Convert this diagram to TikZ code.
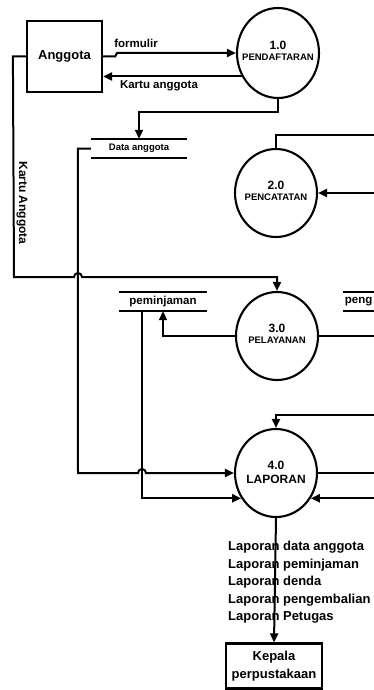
\documentclass[tikz,border=0pt]{standalone}
\usepackage{fontspec}
\setmainfont{Liberation Sans}
\usetikzlibrary{arrows.meta, shapes.geometric, calc, positioning}
\def\numfont{\fontsize{12}{15}\selectfont}
\def\proc#1#2{\makebox[0pt]{\begin{tabular}{@{}c@{}}{\numfont #1}\\[-1pt]#2\end{tabular}}}

\begin{document}
\begin{tikzpicture}[x=1pt, y=-1pt,
    entity/.style={draw, line width=2.2pt, inner sep=0pt, align=center, font=\bfseries\fontsize{13}{18}\selectfont},
    process/.style={ellipse, draw, line width=2.1pt, minimum width=82pt, minimum height=88pt, inner sep=0pt, font=\bfseries\fontsize{9.5}{12}\selectfont},
    store/.style={minimum height=19pt, inner sep=0pt, font=\bfseries\fontsize{11.5}{13}\selectfont},
    storeline/.style={line width=2.2pt},
    flow/.style={line width=2pt, -{Triangle[length=9pt,width=8pt]}},
    plain/.style={line width=2pt},
    lbl/.style={font=\bfseries\fontsize{11.5}{13}\selectfont, inner sep=0pt}
]
    \useasboundingbox (0,0) rectangle (374,690);

    % external entities
    \node[entity, minimum width=75pt, minimum height=71pt] (ang) at (64.5,56.5) {Anggota};
    \node[entity, minimum width=96pt, minimum height=45pt] (kp) at (274,666) {Kepala\\perpustakaan};

    % processes
    \node[process, minimum height=90pt] (P1) at (278,53) {\proc{1.0}{PENDAFTARAN}};
    \node[process] (P2) at (276,193) {\proc{2.0}{PENCATATAN}};
    \node[process] (P3) at (277,336) {\proc{3.0}{PELAYANAN}};
    \node[process, font=\bfseries\fontsize{12}{15}\selectfont] (P4) at (276,473) {\proc{4.0}{LAPORAN}};

    % data stores
    \node[store, minimum width=96pt, font=\bfseries\fontsize{9.5}{11}\selectfont] (da) at (139,148.5) {Data anggota};
    \node[store, minimum width=88pt] (pm) at (163,301.5) {peminjaman};
    \node[store, minimum width=31pt, anchor=west] (pg) at (343,301.5) {peng};
    \foreach \s in {da,pm,pg}
        \draw[storeline] (\s.north west) -- (\s.north east) (\s.south west) -- (\s.south east);

    % right edge
    \coordinate (edge) at (374,0);
    \coordinate (e1) at (374,135);
    \coordinate (e2) at (374,193);
    \coordinate (e3) at (374,336);
    \coordinate (e4) at (374,415);
    \coordinate (e5) at (374,473);
    \coordinate (fstep) at ($(ang.east)+(14,-3.5)$);

    % flows
    \draw[flow] (ang.east) -- ++(12,0) -- (fstep) -- (P1.west);
    \node[lbl] (lform) at (136,43) {formulir};
    \draw[flow] (P1.213) -- (P1.213 -| ang.east);
    \node[lbl] (lkart) at (159,86) {Kartu anggota};
    \draw[flow] (P1.south) -- ++(0,13) -| (da.north);

    \draw[flow] (ang.west) -- ++(-13,0) -- (14,277) -- (74,277)
        arc[start angle=180, end angle=0, radius=4pt] -| (P3.north);
    \node[lbl, rotate=-90, font=\bfseries\fontsize{12}{14}\selectfont] (lka) at (22,203) {Kartu Anggota};

    \draw[flow] (da.west) -- ++(-13,0) -- (78,473) -- (138,473)
        arc[start angle=180, end angle=0, radius=4pt] -- (P4.west);

    \draw[plain] (P2.north) |- (e1);
    \draw[flow] (e2) -- (P2.east);

    \draw[flow] (P3.west) -| (pm.south);
    \draw[plain] (P3.east) -- (e3);

    \draw[flow] (e4) -| (P4.north);
    \draw[plain] (P4.east) -- (e5);
    \draw[flow] (edge |- P4.-36) -- (P4.-36);
    \draw[flow] ($(pm.south west)+(23,0)$) |- (P4.216);

    \draw[flow] (P4.south) -- (kp.north);
    \node[anchor=north west, align=left, inner sep=0pt, font=\bfseries\fontsize{13}{17.5}\selectfont] (lrep) at (228,541)
        {Laporan data anggota\\Laporan peminjaman\\Laporan denda\\Laporan pengembalian\\Laporan Petugas};
\end{tikzpicture}
\end{document}
